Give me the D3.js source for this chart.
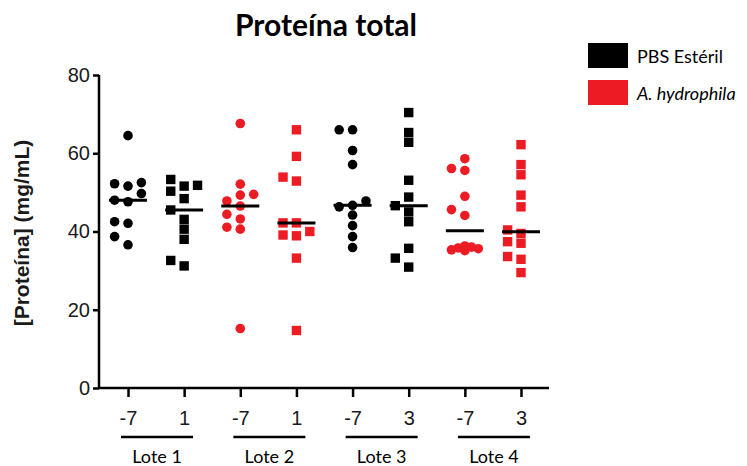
<!DOCTYPE html>
<html lang="pt">
<head>
<meta charset="UTF-8">
<title>Proteína total</title>
<script src="https://d3js.org/d3.v7.min.js"></script>
<style>
    body { margin: 0; padding: 0; background: #fff; }
    svg { display: block; }
    .axis path, .axis line { stroke: #000; stroke-width: 2.5px; }
    .axis text { font-family: "Liberation Sans", Arial, sans-serif; font-size: 20px; fill: #1a1a1a; }
    .calibri { font-family: Lato, "Open Sans", sans-serif; fill: #000; }
</style>
</head>
<body>
<svg id="chart"></svg>
<script>
    // grupos (eixo x): dia de coleta, lote e série
    const tickLabels = ["-7", "1", "-7", "1", "-7", "3", "-7", "3"];
    const loteLabels = ["Lote 1", "Lote 2", "Lote 3", "Lote 4"];
    const seriesNames = ["PBS Estéril", "A. hydrophila"];
    const seriesColors = ["#000000", "#ec1c24"];
    const groupSeries = [0, 0, 1, 1, 0, 0, 1, 1];
    const groupShape = ["circle", "square", "circle", "square", "circle", "square", "circle", "square"];

    // valores (mg/mL)
    const lote1_m7 = [64.5, 52.2, 51.6, 52.5, 49.7, 47.6, 48.0, 42.5, 42.1, 38.7, 36.6];
    const lote1_d1 = [53.3, 51.8, 51.6, 50.3, 48.4, 45.5, 43.1, 40.6, 38.0, 32.6, 31.2];
    const lote2_m7 = [67.6, 52.1, 49.5, 49.3, 47.8, 46.5, 44.4, 43.2, 41.1, 40.6, 15.2];
    const lote2_d1 = [66.0, 59.2, 53.9, 52.9, 42.2, 42.2, 40.0, 39.1, 38.9, 33.2, 14.7];
    const lote3_m7 = [66.0, 66.0, 60.7, 57.1, 47.8, 46.7, 46.3, 44.2, 41.5, 38.7, 35.9];
    const lote3_d3 = [70.4, 65.3, 62.8, 53.1, 48.8, 46.6, 45.0, 42.5, 35.7, 33.2, 30.9];
    const lote4_m7 = [58.6, 56.1, 55.6, 49.0, 45.6, 44.1, 36.3, 36.0, 35.8, 35.6, 35.3, 35.1];
    const lote4_d3 = [62.2, 57.1, 54.5, 49.3, 46.3, 40.4, 39.5, 37.4, 37.0, 33.6, 32.9, 29.5];
    const groupValues = [lote1_m7, lote1_d1, lote2_m7, lote2_d1, lote3_m7, lote3_d3, lote4_m7, lote4_d3];

    const yTicks = [0, 20, 40, 60, 80];

    const W = 747, H = 466;
    const svg = d3.select("#chart").attr("width", W).attr("height", H);

    const groupKeys = d3.range(groupValues.length);
    const x = d3.scalePoint().domain(groupKeys).range([128, 521]);
    const y = d3.scaleLinear().domain([0, 80]).range([388, 75]);
    const axisLeft = 99, axisRight = 549;

    // título
    svg.append("text")
        .attr("class", "calibri")
        .attr("x", 326).attr("y", 36)
        .attr("text-anchor", "middle")
        .style("font-size", "30px").style("font-weight", "bold")
        .text("Proteína total");

    // eixo y
    const gy = svg.append("g")
        .attr("class", "axis")
        .attr("transform", `translate(${axisLeft},0)`)
        .call(d3.axisLeft(y).tickValues(yTicks).tickSize(6).tickPadding(3));
    gy.select(".domain").attr("d", `M0,${y(80)}V${y(0)}`);

    svg.append("text")
        .attr("transform", `translate(29,233) rotate(-90)`)
        .attr("text-anchor", "middle")
        .style("font-family", "'Liberation Sans', Arial, sans-serif")
        .style("font-size", "21px").style("font-weight", "bold")
        .style("fill", "#1a1a1a")
        .text("[Proteína] (mg/mL)");

    // eixo x
    const gx = svg.append("g")
        .attr("class", "axis")
        .attr("transform", `translate(0,${y(0)})`)
        .call(d3.axisBottom(x).tickFormat(i => tickLabels[i]).tickSize(9).tickPadding(14));
    gx.select(".domain").attr("d", `M${axisLeft},0H${axisRight}`);

    // lotes
    const lotes = svg.append("g");
    loteLabels.forEach((lab, j) => {
        const cx = (x(2 * j) + x(2 * j + 1)) / 2 + 1;
        lotes.append("line")
            .attr("x1", cx - 36).attr("x2", cx + 36)
            .attr("y1", 437).attr("y2", 437)
            .attr("stroke", "#000").attr("stroke-width", 2.5);
        lotes.append("text")
            .attr("class", "calibri")
            .attr("x", cx).attr("y", 463)
            .attr("text-anchor", "middle")
            .style("font-size", "18px")
            .text(lab);
    });

    // disposição dos pontos (evita sobreposição, estilo "scatter dot plot")
    const half = 6.7, minDist = 9.5;
    const slots = [0, -2, 2, -1, 1];
    function layout(vals) {
        const placed = [];
        const order = vals.map((v, i) => i).sort((a, b) => vals[a] - vals[b]);
        order.forEach(i => {
            const py = y(vals[i]);
            let best = null, bestD = -1;
            for (const k of slots) {
                const px = k * half;
                let dmin = Infinity;
                placed.forEach(p => { dmin = Math.min(dmin, Math.hypot(p.dx - px, p.py - py)); });
                if (dmin >= minDist) { best = px; bestD = dmin; break; }
                if (dmin > bestD) { bestD = dmin; best = px; }
            }
            placed.push({ dx: best, py: py, v: vals[i] });
        });
        return placed;
    }

    const marks = svg.append("g");
    groupValues.forEach((vals, g) => {
        const color = seriesColors[groupSeries[g]];
        const pts = layout(vals);
        const cx = x(g);
        if (groupShape[g] === "circle") {
            marks.selectAll(null).data(pts).join("circle")
                .attr("cx", d => cx + d.dx).attr("cy", d => d.py)
                .attr("r", 4.8).attr("fill", color);
        } else {
            marks.selectAll(null).data(pts).join("rect")
                .attr("x", d => cx + d.dx - 4.7).attr("y", d => d.py - 4.7)
                .attr("width", 9.4).attr("height", 9.4).attr("fill", color);
        }
        // mediana
        const med = d3.median(vals);
        marks.append("line")
            .attr("x1", cx - 19).attr("x2", cx + 19)
            .attr("y1", y(med)).attr("y2", y(med))
            .attr("stroke", "#000").attr("stroke-width", 3);
    });

    // legenda
    const legend = svg.append("g").attr("transform", "translate(588,43)");
    seriesNames.forEach((name, i) => {
        legend.append("rect")
            .attr("x", 0).attr("y", i * 37)
            .attr("width", 40).attr("height", 25)
            .attr("fill", seriesColors[i]);
        legend.append("text")
            .attr("class", "calibri")
            .attr("x", 49).attr("y", i * 37 + 20)
            .style("font-size", "18px")
            .style("font-style", i === 1 ? "italic" : "normal")
            .text(name);
    });
</script>
</body>
</html>
